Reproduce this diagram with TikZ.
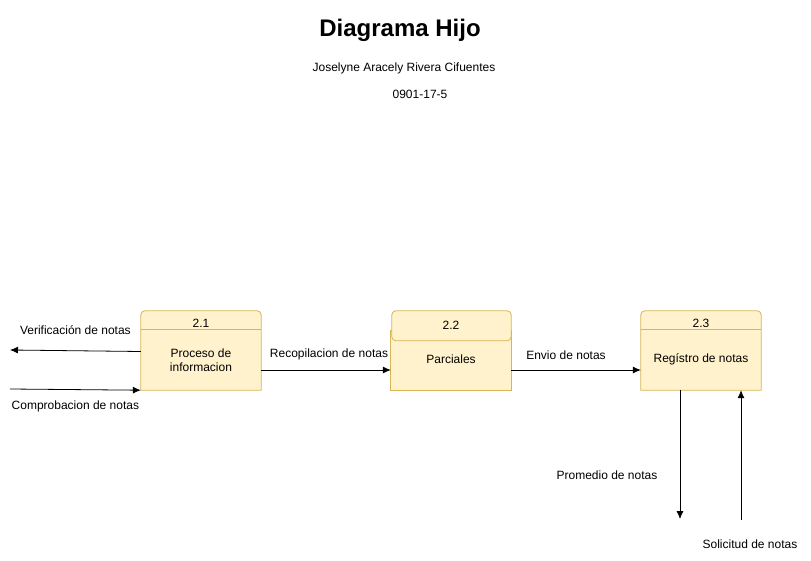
\documentclass[tikz,border=0pt]{standalone}
\usepackage{fontspec}
\setmainfont{Liberation Sans}
\usetikzlibrary{positioning,arrows.meta}
\definecolor{procfill}{HTML}{FFF2CC}
\definecolor{procline}{HTML}{D6B656}
\tikzset{
  procarea/.style={minimum width=120pt, minimum height=79pt, inner sep=0pt},
  procbox/.style={draw=procline, fill=procfill, line width=0.8pt},
  txt/.style={font=\fontsize{12}{14}\selectfont, align=center, inner sep=1pt},
  flow/.style={-{Latex[length=8pt,width=7pt]}, line width=0.8pt},
}
\begin{document}
\begin{tikzpicture}[x=1pt, y=-1pt]
        \useasboundingbox (0,0) rectangle (811,561);
        % titles
        \node[font=\fontsize{24}{28}\selectfont\bfseries] (title) at (400,30) {Diagrama Hijo};
        \node[txt] (author) at (404,68) {Joselyne Aracely Rivera Cifuentes};
        \node[txt] (carne) at (420,94) {0901-17-5};
        % process areas
        \node[procarea] (p1) at (201,350.5) {};
        \node[procarea] (p2) at (451,350.5) {};
        \node[procarea] (p3) at (701,350.5) {};
        % 2.1
        \draw[procbox] (p1.south west) [rounded corners=4pt] -- (p1.north west) -- (p1.north east) [sharp corners] -- (p1.south east) -- cycle;
        \draw[procline, line width=0.8pt] ([yshift=-19pt]p1.north west) -- ([yshift=-19pt]p1.north east);
        \node[txt] (n1) at (201,323) {2.1};
        \node[txt] (t1) at (201,360) {Proceso de\\informacion};
        % 2.2
        \draw[procbox] ([yshift=-20pt]p2.north west) rectangle (p2.south east);
        \draw[procbox, rounded corners=4pt] ([xshift=1pt]p2.north west) rectangle ([yshift=-30pt]p2.north east);
        \node[txt] (n2) at (451,325) {2.2};
        \node[txt] (t2) at (451,359) {Parciales};
        % 2.3
        \draw[procbox] (p3.south west) [rounded corners=4pt] -- (p3.north west) -- (p3.north east) [sharp corners] -- (p3.south east) -- cycle;
        \draw[procline, line width=0.8pt] ([yshift=-19pt]p3.north west) -- ([yshift=-19pt]p3.north east);
        \node[txt] (n3) at (701,323) {2.3};
        \node[txt] (t3) at (701,359) {Regístro de notas};
        % free ends
        \coordinate (vout) at (10,350);
        \coordinate (cin) at (10,389);
        \coordinate (pout) at (680,519);
        \coordinate (sin) at (741,520);
        % flows
        \draw[flow] ([yshift=-1pt]p1.west) -- node[txt, above=15pt]{Verificación de notas} (vout);
        \draw[flow] (cin) -- node[txt, below=10pt]{Comprobacion de notas} (p1.south west);
        \draw[flow] ([yshift=-19.5pt]p1.east) -- node[txt, above=9pt, xshift=3pt]{Recopilacion de notas} ([yshift=-19.5pt]p2.west);
        \draw[flow] ([yshift=-19.5pt]p2.east) -- node[txt, above=9pt, xshift=-10pt]{Envio de notas} ([yshift=-19.5pt]p3.west);
        \draw[flow] ([xshift=-21pt]p3.south) -- (pout);
        \draw[flow] (sin) -- ([xshift=40pt]p3.south);
        \node[txt] (lprom) at (607,475) {Promedio de notas};
        \node[txt] (lsol) at (750,544) {Solicitud de notas};
\end{tikzpicture}
\end{document}
